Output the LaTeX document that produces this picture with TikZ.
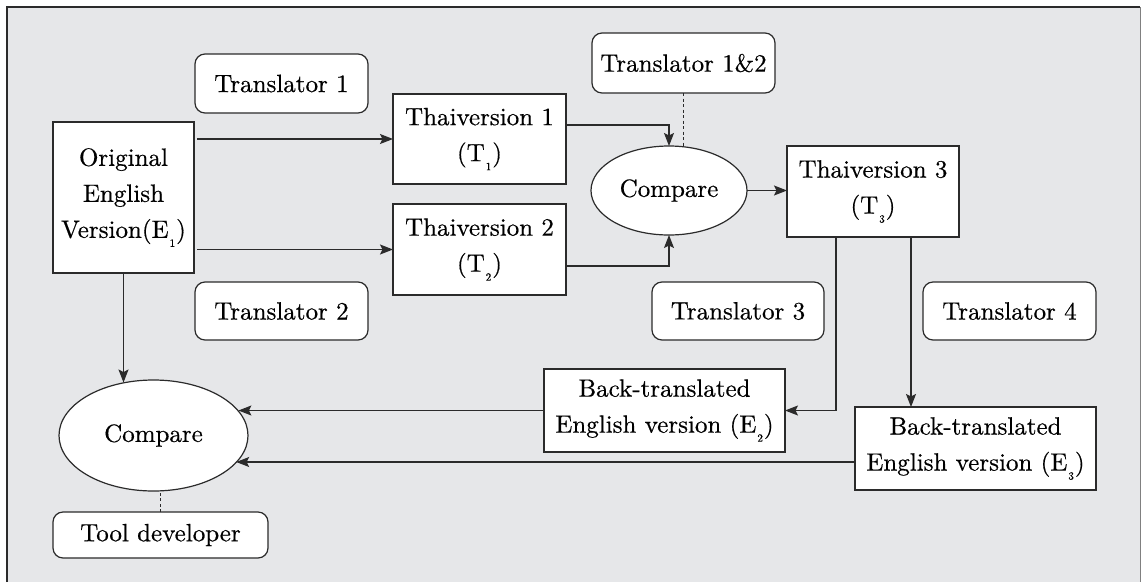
\documentclass[tikz,border=0pt]{standalone}
\usepackage{fontspec}
\newfontfamily\mfont[FakeBold=0.5]{lmroman10-regular.otf}
\usetikzlibrary{shapes.geometric,arrows.meta}
\definecolor{bgc}{HTML}{E6E7E9}
\definecolor{ln}{HTML}{2B2B2B}
\newcommand\fsz{\mfont\fontsize{25}{36}\selectfont}
\newcommand\sbs[1]{\kern1pt\raisebox{-9pt}{\fontsize{11}{11}\selectfont #1}\kern1pt}
\tikzset{
  box/.style={draw=ln, line width=1.2pt, fill=white, rectangle, inner sep=0pt, outer sep=0pt, align=center, font=\fsz},
  rbox/.style={box, rounded corners=10pt},
  oval/.style={draw=ln, line width=1.2pt, fill=white, ellipse, inner sep=0pt, outer sep=0pt, font=\fsz},
  conn/.style={draw=ln, line width=1.2pt, -{Stealth[length=13pt,width=10pt,inset=2.5pt]}},
  dsh/.style={draw=ln, line width=1.2pt, dash pattern=on 3pt off 2.5pt},
}
\begin{document}
\begin{tikzpicture}[x=1pt,y=-1pt]
\useasboundingbox (0,0) rectangle (1141,582);
% frame
\fill[bgc] (7,7) rectangle (1141,582);
\draw[ln, line width=1.8pt] (7,582) -- (7,7) -- (1140,7);
\draw[gray, line width=1pt] (1140,7) -- (1140,582);
% nodes
\node[box, minimum width=141pt, minimum height=151pt] (orig) at (123.5,197.5) {Original\\English\\Version(E\sbs{1})};
\node[rbox, minimum width=173pt, minimum height=59pt] (tr1) at (281.5,83.5) {Translator 1};
\node[rbox, minimum width=173pt, minimum height=58pt] (tr2) at (281.5,311) {Translator 2};
\node[box, minimum width=173pt, minimum height=90pt] (th1) at (479.5,139) {Thaiversion 1\\(T\sbs{1})};
\node[box, minimum width=173pt, minimum height=91pt] (th2) at (479.5,249.5) {Thaiversion 2\\(T\sbs{2})};
\node[rbox, minimum width=183pt, minimum height=60pt] (tr12) at (683.5,63) {Translator 1\&2};
\node[oval, minimum width=156pt, minimum height=89pt] (cmp1) at (669,190.5) {Compare};
\node[box, minimum width=172pt, minimum height=91pt] (th3) at (873,191.5) {Thaiversion 3\\(T\sbs{3})};
\node[rbox, minimum width=172pt, minimum height=58pt] (tr3) at (738,311) {Translator 3};
\node[rbox, minimum width=173pt, minimum height=58pt] (tr4) at (1009.5,311) {Translator 4};
\node[box, minimum width=241pt, minimum height=83pt] (back1) at (664.5,410.5) {Back-translated\\English version (E\sbs{2})};
\node[box, minimum width=241pt, minimum height=83pt] (back2) at (975.5,448.5) {Back-translated\\English version (E\sbs{3})};
\node[oval, minimum width=189pt, minimum height=111pt] (cmp2) at (153.5,435.5) {Compare};
\node[rbox, minimum width=215pt, minimum height=46pt] (tool) at (160.5,535) {Tool developer};
% connectors
\draw[conn] ([xshift=3pt]orig.east |- th1.west) -- (th1.west);
\draw[conn] ([xshift=3pt]orig.east |- th2.west) -- (th2.west);
\draw[conn] ([yshift=14pt]th1.east) -| (cmp1.north);
\draw[conn] ([yshift=-16.5pt]th2.east) -| (cmp1.south);
\draw[dsh] (tr12.south) -- (tr12.south |- cmp1.north);
\draw[conn] (cmp1.east) -- (cmp1.east -| th3.west);
\draw[conn] ([xshift=-37pt]th3.south) |- (back1.east);
\draw[conn] ([xshift=38pt]th3.south) -- ([xshift=38pt]th3.south |- back2.north);
\draw[conn] (back1.west) -- (back1.west -| cmp2.16);
\draw[conn] ([yshift=-13.5pt]back2.west) -- ([yshift=-13.5pt]back2.west -| cmp2.-18);
\draw[conn] (orig.south) -- (orig.south |- cmp2.118);
\draw[dsh] (tool.north) -- (tool.north |- cmp2.south);
\end{tikzpicture}
\end{document}
